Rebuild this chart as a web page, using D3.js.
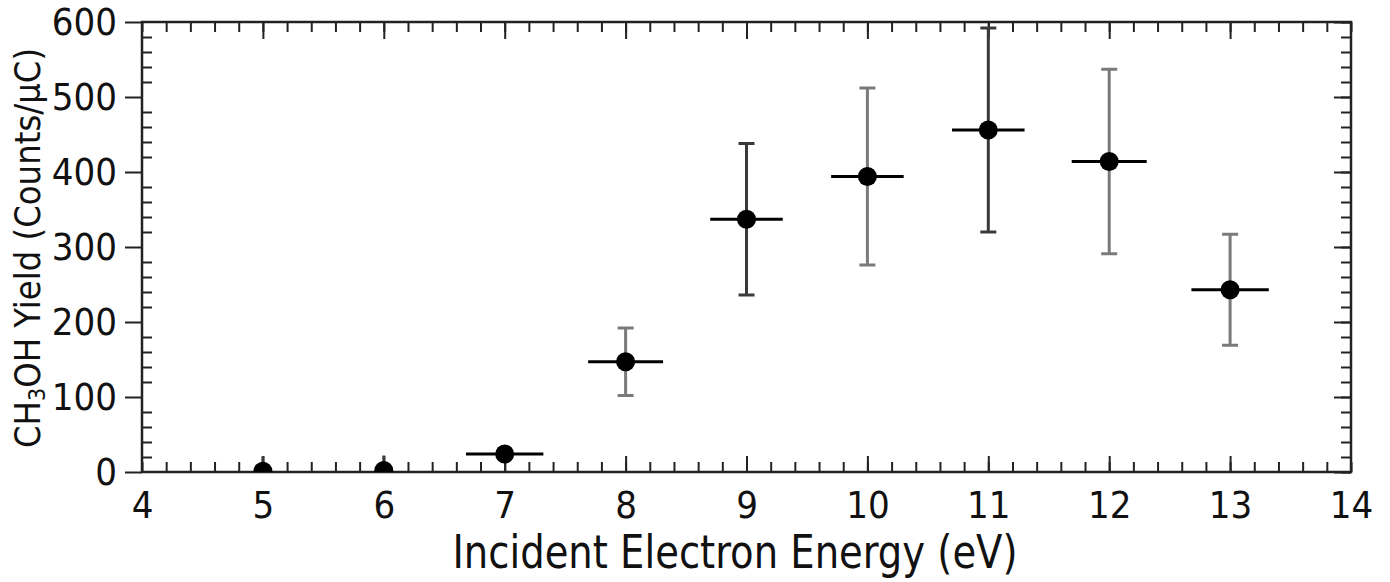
<!DOCTYPE html>
<html>
<head>
<meta charset="utf-8">
<script src="https://cdn.jsdelivr.net/npm/d3@7"></script>
<style>
  body { margin: 0; background: #fff; }
  text { font-family: "DejaVu Sans Condensed", "DejaVu Sans", sans-serif; font-stretch: condensed; fill: #111; }
</style>
</head>
<body>
<script>
// incident electron energy (eV)
var energy = [5, 6, 7, 8, 9, 10, 11, 12, 13];
// CH3OH yield (counts / uC)
var yieldVal = [1, 2, 24, 147, 337, 394, 456, 414, 243];
var yieldErr = [20, 20, 10, 45, 101, 118, 136, 123, 74];
var energyErr = [0, 0, 0.32, 0.31, 0.3, 0.3, 0.3, 0.31, 0.32];
var xTicks = [4, 5, 6, 7, 8, 9, 10, 11, 12, 13, 14];
var yTicks = [0, 100, 200, 300, 400, 500, 600];

var width = 1390,
    height = 582,
    pLeft = 142,
    pRight = 1351,
    pTop = 22,
    pBottom = 472;

// error bars drawn darker for these energies
var darkBars = [5, 6, 9, 11];

var svg = d3.select("body").append("svg")
    .attr("width", width)
    .attr("height", height);

var x = d3.scaleLinear().domain([4, 14]).range([pLeft, pRight]);
var y = d3.scaleLinear().domain([0, 600]).range([pBottom, pTop]);

var xMinor = d3.range(4, 14.001, 0.2);
var yMinor = d3.range(0, 600.001, 20);

svg.append("clipPath").attr("id", "plotclip")
   .append("rect")
   .attr("x", pLeft).attr("y", pTop)
   .attr("width", pRight - pLeft).attr("height", pBottom - pTop);

/* axes: bottom / top / left / right, ticks built with d3.axis */
svg.append("g")
    .attr("transform", "translate(0," + pBottom + ")")
    .call(d3.axisTop(x).tickValues(xMinor).tickSize(10).tickFormat(""));
svg.append("g")
    .attr("transform", "translate(0," + pBottom + ")")
    .call(d3.axisTop(x).tickValues(xTicks.slice(1, -1)).tickSize(16).tickFormat(""));
svg.append("g")
    .attr("transform", "translate(0," + pBottom + ")")
    .call(d3.axisBottom(x).tickValues(xTicks).tickSize(0).tickPadding(19).tickFormat(d3.format("d")));

svg.append("g")
    .attr("transform", "translate(0," + pTop + ")")
    .call(d3.axisBottom(x).tickValues(xMinor).tickSize(10).tickFormat(""));
svg.append("g")
    .attr("transform", "translate(0," + pTop + ")")
    .call(d3.axisBottom(x).tickValues(xTicks.slice(1, -1)).tickSize(17).tickFormat(""));

svg.append("g")
    .attr("transform", "translate(" + pLeft + ",0)")
    .call(d3.axisRight(y).tickValues(yMinor.filter(function(d){ return d % 100 != 0; })).tickSize(10).tickFormat(""));
svg.append("g")
    .attr("transform", "translate(" + pLeft + ",0)")
    .call(d3.axisLeft(y).tickValues(yTicks).tickSize(17).tickPadding(8).tickFormat(d3.format("d")));

svg.append("g")
    .attr("transform", "translate(" + pRight + ",0)")
    .call(d3.axisLeft(y).tickValues(yMinor).tickSize(10).tickFormat(""));
svg.append("g")
    .attr("transform", "translate(" + pRight + ",0)")
    .call(d3.axisLeft(y).tickValues(yTicks).tickSize(17).tickFormat(""));

svg.selectAll(".domain").remove();
svg.selectAll(".tick line").attr("stroke", "#222").attr("stroke-width", 2);
svg.selectAll(".tick text").attr("font-size", 38).attr("fill", "#111");

svg.append("rect")
   .attr("x", pLeft).attr("y", pTop)
   .attr("width", pRight - pLeft).attr("height", pBottom - pTop)
   .attr("fill", "none")
   .attr("stroke", "#222")
   .attr("stroke-width", 2.5);

/* data: error bars + markers */
var pts = energy.map(function(e, i) {
    return { e: e, v: yieldVal[i], dy: yieldErr[i], dx: energyErr[i] };
});

var plot = svg.append("g").attr("clip-path", "url(#plotclip)");

var g = plot.selectAll("g.pt")
    .data(pts)
    .enter()
    .append("g")
    .attr("class", "pt");

function barColor(d) { return darkBars.indexOf(d.e) >= 0 ? "#3a3a3a" : "#7a7a7a"; }

g.append("line")
    .attr("x1", function(d){ return x(d.e); })
    .attr("x2", function(d){ return x(d.e); })
    .attr("y1", function(d){ return y(d.v - d.dy); })
    .attr("y2", function(d){ return y(d.v + d.dy); })
    .attr("stroke", barColor)
    .attr("stroke-width", 3);

g.filter(function(d){ return d.dy > 30; }).each(function(d) {
    var sel = d3.select(this);
    [d.v - d.dy, d.v + d.dy].forEach(function(val) {
        sel.append("line")
           .attr("x1", x(d.e) - 8).attr("x2", x(d.e) + 8)
           .attr("y1", y(val)).attr("y2", y(val))
           .attr("stroke", barColor(d))
           .attr("stroke-width", 3);
    });
});

g.filter(function(d){ return d.dx > 0; })
    .append("line")
    .attr("x1", function(d){ return x(d.e - d.dx); })
    .attr("x2", function(d){ return x(d.e + d.dx); })
    .attr("y1", function(d){ return y(d.v); })
    .attr("y2", function(d){ return y(d.v); })
    .attr("stroke", "#000")
    .attr("stroke-width", 3);

g.append("circle")
    .attr("cx", function(d){ return x(d.e); })
    .attr("cy", function(d){ return y(d.v); })
    .attr("r", 9.5)
    .attr("fill", "#000");

/* axis titles */
svg.append("text")
    .attr("x", 735)
    .attr("y", 568)
    .attr("text-anchor", "middle")
    .attr("font-size", 47)
    .attr("textLength", 565)
    .attr("lengthAdjust", "spacingAndGlyphs")
    .text("Incident Electron Energy (eV)");

var yt = svg.append("text")
    .attr("transform", "translate(40," + 248 + ") rotate(-90)")
    .attr("text-anchor", "middle")
    .attr("font-size", 36);
yt.append("tspan").text("CH");
yt.append("tspan").attr("font-size", 23).attr("dy", 5).text("3");
yt.append("tspan").attr("dy", -5).text("OH Yield (Counts/\u03bcC)");
</script>
</body>
</html>
